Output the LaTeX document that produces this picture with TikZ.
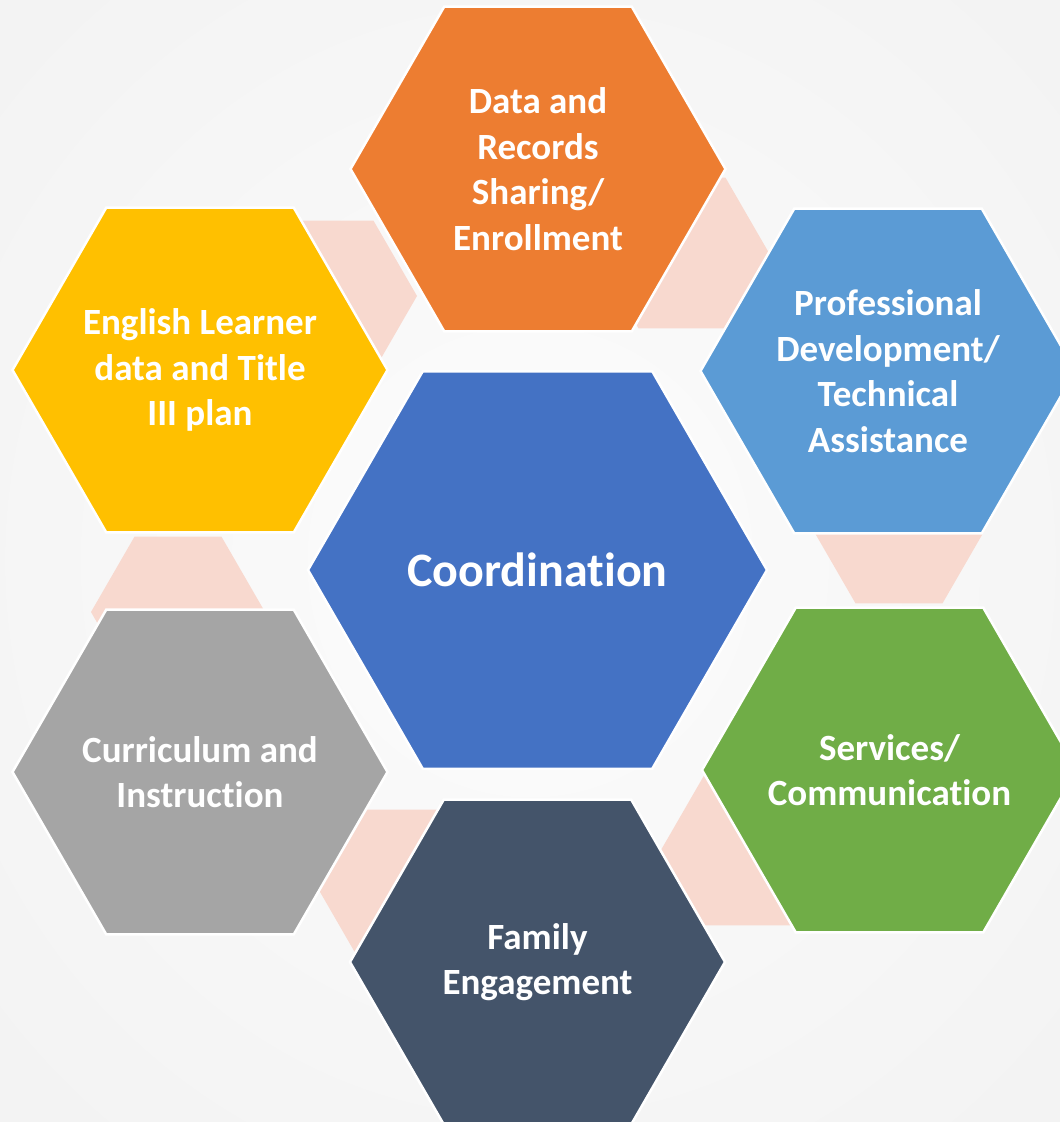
\documentclass[tikz,border=0pt]{standalone}
\usepackage{fontspec}
\setmainfont{Carlito}[Ligatures=NoCommon]
\usetikzlibrary{shapes.geometric}
\definecolor{hexcore}{HTML}{4472C4}
\definecolor{hexorange}{HTML}{ED7D31}
\definecolor{hexyellow}{HTML}{FFC000}
\definecolor{hexsky}{HTML}{5B9BD5}
\definecolor{hexgreen}{HTML}{70AD47}
\definecolor{hexslate}{HTML}{44546A}
\definecolor{hexgray}{HTML}{A5A5A5}
\definecolor{linkpink}{HTML}{F8D9CF}
\pgfdeclareradialshading{bgglow}{\pgfpoint{0bp}{0bp}}{color(0bp)=(gray!2); color(50bp)=(gray!13)}
\newcommand{\wideline}[1]{\makebox[0pt]{#1}}

\begin{document}
\begin{tikzpicture}
  [x=1pt,y=-1pt,every node/.style={regular polygon,regular polygon sides=6,inner sep=0pt,outer sep=0pt}]

  \tikzstyle{cell} = [minimum size=375pt,draw=white,line width=2.5pt,text=white,align=center,font=\fontsize{37}{45.5}\selectfont\bfseries]
  \tikzstyle{link} = [minimum size=174pt,fill=linkpink]

  \clip (0,0) rectangle (1060,1122);
  \shade[shading=bgglow] (0,0) rectangle (1060,1122);

  \node[link] (link1) at (682,253) {};
  \node[link] (link2) at (330,296) {};
  \node[link] (link3) at (178,612) {};
  \node[link] (link4) at (899,528) {};
  \node[link] (link5) at (403,885) {};
  \node[link] (link6) at (748,850) {};

  \node[cell,fill=hexcore,minimum size=459pt,font=\fontsize{48}{58}\selectfont\bfseries] (core) at (537.5,570) {Coordination};
  \node[cell,fill=hexorange] (data)     at (538,169)   {Data and\\Records\\Sharing/\\Enrollment};
  \node[cell,fill=hexsky]    (develop)  at (888,371)   {Professional\\Development/\\Technical\\Assistance};
  \node[cell,fill=hexgreen]  (services) at (889.5,770) {Services/\\\wideline{Communication}};
  \node[cell,fill=hexslate]  (family)   at (537.5,962) {Family\\Engagement};
  \node[cell,fill=hexgray]   (teach)    at (200,772)   {\wideline{Curriculum and}\\Instruction};
  \node[cell,fill=hexyellow] (learner)  at (200,370)   {\wideline{English Learner}\\data and Title\\III plan};
\end{tikzpicture}
\end{document}
